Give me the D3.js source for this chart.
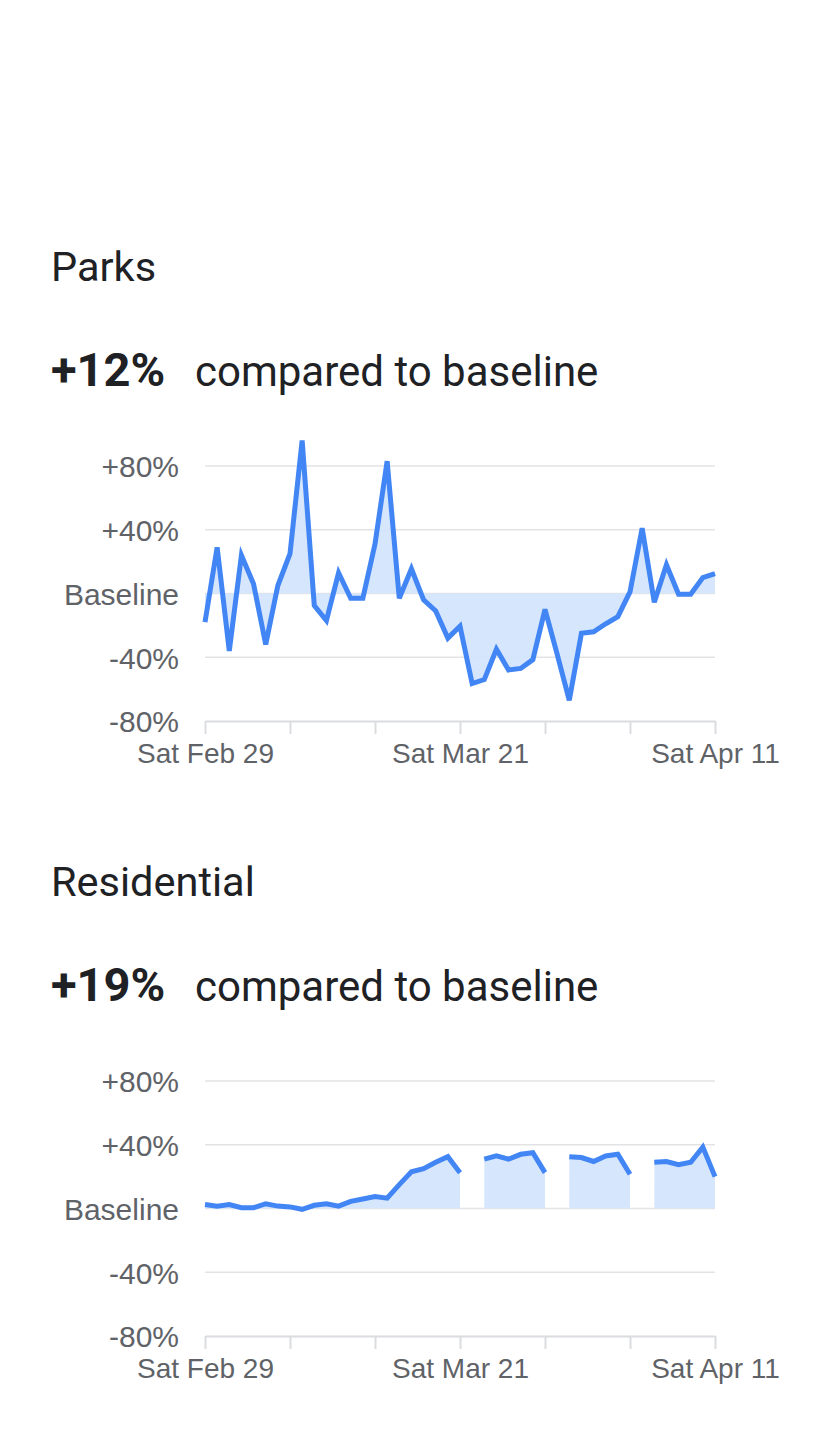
<!DOCTYPE html>
<html>
<head>
<meta charset="utf-8">
<script src="https://cdn.jsdelivr.net/npm/d3@7"></script>
<style>
  body { margin: 0; background: #fff; }
  svg { display: block; }
  .title { font-family: Roboto, "Noto Sans", sans-serif; fill: #202124; }
  .axis text { font-family: "Liberation Sans", Arial, sans-serif; fill: #5f6368; }
</style>
</head>
<body>
<script>
// days from Sat Feb 29 to Sat Apr 11, 2020
var startDate = new Date(2020, 1, 29);
var dates = d3.range(43).map(function(i){ return d3.timeDay.offset(startDate, i); });

var categories = ["Parks", "Residential"];
var headlines = ["+12%", "+19%"];

var parks = [-18, 29, -36, 24, 6, -32, 5, 25, 96, -7.5, -17, 13, -3, -3, 31, 83, -3, 15.5, -4, -11,
	-28, -20.5, -56.5, -54, -35, -48, -47, -41.5, -10, -38, -67, -25, -24, -19, -14.5, 1, 41, -5.5,
	18, -0.5, -0.5, 10, 12.5];

// null = no data for that day
var residential = [2.5, 1.5, 2.5, 0.5, 0.5, 3, 1.5, 1, -0.5, 2, 3, 1.5, 4.5, 6, 7.5, 6.5, 15, 23, 25,
	29, 32.5, 22.5, null, 31, 33, 31, 34, 35, 22.5, null, 32.5, 32, 29.5, 33, 34, 21.5, null, 29, 29.5,
	27.5, 29, 38.5, 20];

var yTicks = [-80, -40, 0, 40, 80];
var yTickLabels = ["-80%", "-40%", "Baseline", "+40%", "+80%"];
var xTicks = d3.range(0, 43, 7).map(function(i){ return dates[i]; });
var xTickLabels = ["Sat Feb 29", "", "", "Sat Mar 21", "", "", "Sat Apr 11"];

var svg = d3.select("body").append("svg")
	.attr("width", 828)
	.attr("height", 1439);

var drawPanel = function(top, name, headline, values){
	var g = svg.append("g").attr("transform", "translate(0," + top + ")");

	g.append("text").attr("class", "title")
		.attr("x", 51).attr("y", 0)
		.style("font-size", "41.5px")
		.text(name);

	var h = g.append("text").attr("class", "title")
		.attr("x", 51).attr("y", 105)
		.style("font-size", "42px");
	h.append("tspan").style("font-weight", "bold").style("font-size", "47px").text(headline);
	h.append("tspan").attr("x", 195).text("compared to baseline");

	var x = d3.scaleTime()
		.domain([dates[0], dates[dates.length - 1]])
		.range([205, 715]);
	var y = d3.scaleLinear()
		.domain([-80, 80])
		.range([440, 185]);

	// grid
	g.append("g").selectAll("line")
		.data(yTicks.slice(1))
		.enter().append("line")
		.attr("x1", 205).attr("x2", 715)
		.attr("y1", function(d){ return y(d); })
		.attr("y2", function(d){ return y(d); })
		.attr("stroke", "#e3e3e6")
		.attr("stroke-width", 1.5);

	var yAxis = g.append("g").attr("class", "axis")
		.attr("transform", "translate(179,0)")
		.call(d3.axisLeft(y).tickValues(yTicks)
			.tickFormat(function(d, i){ return yTickLabels[i]; })
			.tickSize(0).tickPadding(0));
	yAxis.select(".domain").remove();
	yAxis.selectAll("text").style("font-size", "30px").attr("dy", "0.36em");

	var xAxis = g.append("g").attr("class", "axis")
		.attr("transform", "translate(0," + y(-80) + ")")
		.call(d3.axisBottom(x).tickValues(xTicks)
			.tickFormat(function(d, i){ return xTickLabels[i]; })
			.tickSizeInner(13).tickSizeOuter(0).tickPadding(9));
	xAxis.select(".domain").attr("stroke", "#dadce0").attr("stroke-width", 2);
	xAxis.selectAll(".tick line").attr("stroke", "#dadce0").attr("stroke-width", 2);
	xAxis.selectAll("text").style("font-size", "28px");

	var area = d3.area()
		.defined(function(d){ return d != null; })
		.x(function(d, i){ return x(dates[i]); })
		.y0(y(0))
		.y1(function(d){ return y(d); });

	var line = d3.line()
		.defined(function(d){ return d != null; })
		.x(function(d, i){ return x(dates[i]); })
		.y(function(d){ return y(d); });

	g.append("path").datum(values)
		.attr("d", area)
		.attr("fill", "#d2e3fc")
		.attr("opacity", 0.9);

	g.append("path").datum(values)
		.attr("d", line)
		.attr("fill", "none")
		.attr("stroke", "#4285f4")
		.attr("stroke-width", 5)
		.attr("stroke-linejoin", "miter");
};

drawPanel(281, categories[0], headlines[0], parks);
drawPanel(896, categories[1], headlines[1], residential);
</script>
</body>
</html>
